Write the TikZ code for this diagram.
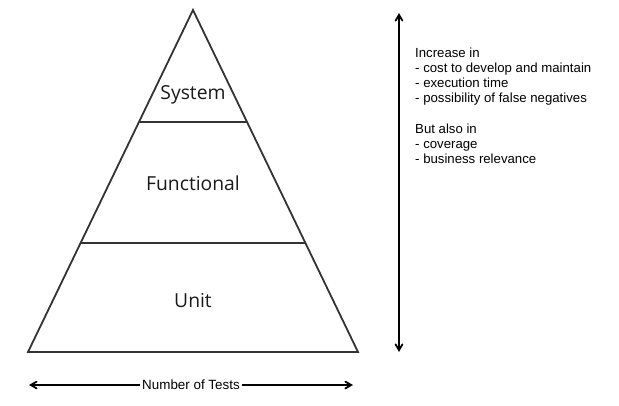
\documentclass[tikz,border=0pt]{standalone}
\usepackage{fontspec}
\setmainfont{Liberation Sans}
\newfontfamily\layerfont{Open Sans}
\usetikzlibrary{arrows}

\tikzset{
  layer/.style={font=\layerfont\fontsize{19.3}{22}\selectfont, text=black!90},
  edge/.style={line width=1.8pt, draw=black!80},
  axis/.style={line width=1.8pt, <->, >=angle 60}
}

\begin{document}
\begin{tikzpicture}[x=1pt,y=-1pt]
    \useasboundingbox (0,0) rectangle (619,405);

    \coordinate (top) at (193,10);
    \coordinate (bl) at (28,352);
    \coordinate (br) at (358,352);
    \coordinate (sysL) at (139,122);
    \coordinate (sysR) at (247,122);
    \coordinate (funL) at (80.5,243);
    \coordinate (funR) at (305.5,243);

    \draw[edge, line join=miter] (top) -- (bl) -- (br) -- cycle;
    \draw[edge] (sysL) -- (sysR);
    \draw[edge] (funL) -- (funR);

    \node[layer] (sys) at (193,95)  {System};
    \node[layer] (fun) at (193,183) {Functional};
    \node[layer] (unit) at (193,301) {Unit};

    \coordinate (up) at (399,13);
    \coordinate (down) at (399,352);
    \draw[axis] (down) -- (up);

    \coordinate (left) at (29,385);
    \coordinate (right) at (353,385);
    \draw[axis] (left) -- (right)
        node[midway, fill=white, inner xsep=2pt, inner ysep=1pt, font=\fontsize{13.4}{15}\selectfont] (count) {Number of Tests};

    \node[anchor=north west, align=left, inner sep=0pt, font=\fontsize{13.2}{15.2}\selectfont] (notes) at (415,47.5)
        {Increase in\\
         - cost to develop and maintain\\
         - execution time\\
         - possibility of false negatives\\[15.2pt]
         But also in\\
         - coverage\\
         - business relevance};
\end{tikzpicture}
\end{document}
